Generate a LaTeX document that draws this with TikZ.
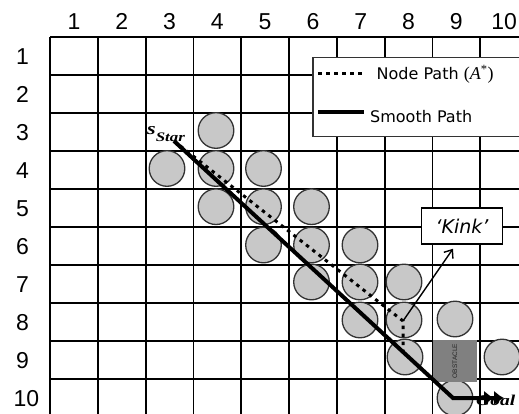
\documentclass[tikz,border=0pt]{standalone}
\usepackage{fontspec}
\setmainfont{Liberation Sans}
\newfontfamily\tnr{Liberation Serif}
\newfontfamily\lgd{DejaVu Sans}
\usetikzlibrary{arrows.meta,calc}
\definecolor{circfill}{RGB}{200,200,200}
\definecolor{obstfill}{RGB}{128,128,128}
\begin{document}
\begin{tikzpicture}[x=1pt,y=-1pt,
  gridline/.style={line width=1.8pt, black},
  lbl/.style={font=\fontsize{23}{23}\selectfont, inner sep=0},
  obs/.style={circle, draw=black!80, line width=1.3pt, fill=circfill, minimum size=35.6pt, inner sep=0},
  obstbox/.style={fill=obstfill, minimum width=44pt, minimum height=42pt, inner sep=0, text=black!85},
  legendbox/.style={draw=black!80, line width=1.5pt, fill=white, inner sep=0},
  kinkbox/.style={draw=black, line width=1.5pt, fill=white, minimum width=81pt, minimum height=36pt, inner sep=0},
  lgdtext/.style={font=\lgd\fontsize{16}{16}\selectfont, inner sep=0, anchor=west},
  astar/.style={line width=3pt, dash pattern=on 3.5pt off 4.5pt, black},
  smoothpath/.style={line width=4pt, black},
  kinkarrow/.style={line width=1.4pt, black, -{Straight Barb[length=7pt,width=11pt,line width=1.4pt]}},
  goalarrow/.style={-{Latex[length=10pt,width=15pt] Latex[length=10pt,width=15pt]}}
]
\useasboundingbox (0,0) rectangle (519,414);
\fill[white] (0,0) rectangle (519,414);
\clip (0,0) rectangle (519,414);

% grid
\foreach \i in {0,...,10}
  \draw[gridline] ({50+\i*47.8},37.3) -- ({50+\i*47.8},430);
\foreach \j in {0,...,10}
  \draw[gridline] (50,{37.3+\j*38}) -- (540,{37.3+\j*38});

% labels
\foreach \i in {1,...,10}
  \node[lbl] (c\i) at ({50+(\i-0.5)*47.8},21.7) {\i};
\foreach \j in {1,...,9}
  \node[lbl] (r\j) at (22.5,{37.3+(\j-0.5)*38}) {\j};
\node[lbl] (r10) at (26.5,398.3) {10};

% obstacles (circles)
\node[obs] (o1) at (216,130.5) {};
\node[obs] (o2) at (167,168.5) {};
\node[obs] (o3) at (216,168.5) {};
\node[obs] (o4) at (263.5,168.5) {};
\node[obs] (o5) at (216,206.7) {};
\node[obs] (o6) at (263.5,206.7) {};
\node[obs] (o7) at (311.5,206.7) {};
\node[obs] (o8) at (263.5,245) {};
\node[obs] (o9) at (311.5,245) {};
\node[obs] (o10) at (360,245) {};
\node[obs] (o11) at (311.5,282) {};
\node[obs] (o12) at (360,282) {};
\node[obs] (o13) at (404,282) {};
\node[obs] (o14) at (360,320) {};
\node[obs] (o15) at (404,320) {};
\node[obs] (o16) at (455,319) {};
\node[obs] (o17) at (405,357) {};
\node[obs] (o18) at (502,357) {};
\node[obs] (o19) at (455,398) {};

% square obstacle
\node[obstbox] (obst) at (455,361) {\rotatebox{90}{\fontsize{6.5}{6.5}\selectfont OBSTACLE}};

% legend
\node[legendbox, anchor=north west, minimum width=220pt, minimum height=79pt] (legend) at (312,57) {};
\coordinate (l1a) at (318,74);
\coordinate (l1b) at (362,74);
\coordinate (l2a) at (318,111.7);
\coordinate (l2b) at (364,111.7);
\draw[astar] (l1a) -- (l1b);
\draw[smoothpath] (l2a) -- (l2b);
\node[lgdtext] (l1t) at (376.5,74) {Node Path {\tnr\fontsize{18}{18}\selectfont(\textit{A}\textsuperscript{*})}};
\node[lgdtext] (l2t) at (370,116.5) {Smooth Path};

% kink label
\node[kinkbox] (kink) at (462,226) {\lgd\itshape\fontsize{19}{19}\selectfont ‘Kink’};

% start and goal labels
\node[anchor=base west, inner sep=0] (slabel) at (147,135)
  {\tnr\bfseries\itshape\scalebox{1.3}[1]{\fontsize{17}{17}\selectfont s}\raisebox{-7pt}{\scalebox{1.3}[1]{\fontsize{13}{13}\selectfont Star}}};
\node[anchor=base west, inner sep=0] (glabel) at (476,405)
  {\tnr\bfseries\itshape\scalebox{1.3}[1]{\fontsize{15}{15}\selectfont Goal}};

% paths
\coordinate (start) at (174,141);
\coordinate (kp) at (403,321);
\coordinate (merge) at (403,352);
\coordinate (corner) at (453,398);
\coordinate (goal) at (504,398);
\draw[astar] (start) -- (kp) -- (merge);
\draw[smoothpath, goalarrow] (start) -- (corner) -- (goal);

% kink arrow
\draw[kinkarrow] (kp) -- ($(kink.south)+(-9,4)$);
\end{tikzpicture}
\end{document}
